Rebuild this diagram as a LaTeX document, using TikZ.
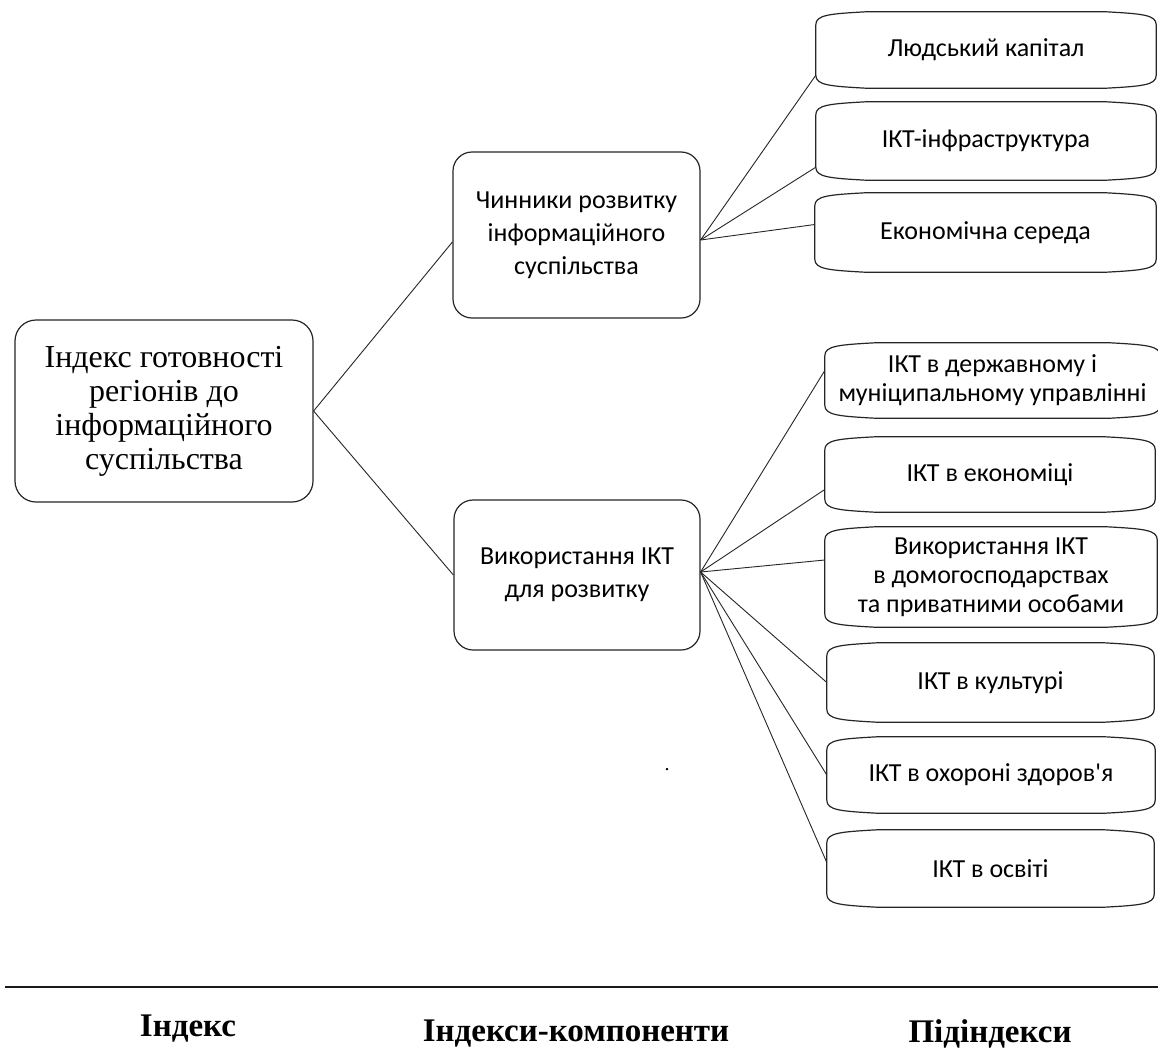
\documentclass[tikz,border=0pt]{standalone}
\usepackage{fontspec}
\setmainfont{Liberation Serif}
\newfontfamily\calfont{Carlito}

\tikzset{
  boxline/.style={draw=black!85, line width=1.2pt},
  link/.style={draw=black!85, line width=0.9pt},
  rootbox/.style={boxline, rounded corners=21pt, align=center,
    font=\fontsize{32}{34}\selectfont, inner sep=0pt},
  midbox/.style={boxline, rounded corners=19pt, align=center,
    font=\fontsize{26}{33}\selectfont\calfont, inner sep=0pt},
  leafbox/.style={align=center, inner sep=0pt,
    font=\fontsize{26}{29}\selectfont\calfont},
  caption/.style={font=\fontsize{33}{35}\selectfont\bfseries, inner sep=0pt}
}

% outline of a leaf box: straight sides, softly flared top and bottom edges
\newcommand\leafoutline[1]{%
  \draw[boxline]
    ([yshift=-13pt]#1.north west)
      .. controls ([yshift=-3pt]#1.north west) and ([xshift=14pt,yshift=-2pt]#1.north west)
      .. ([xshift=50pt]#1.north west)
    -- ([xshift=-50pt]#1.north east)
      .. controls ([xshift=-14pt,yshift=-2pt]#1.north east) and ([yshift=-3pt]#1.north east)
      .. ([yshift=-13pt]#1.north east)
    -- ([yshift=13pt]#1.south east)
      .. controls ([yshift=3pt]#1.south east) and ([xshift=-14pt,yshift=2pt]#1.south east)
      .. ([xshift=-50pt]#1.south east)
    -- ([xshift=50pt]#1.south west)
      .. controls ([xshift=14pt,yshift=2pt]#1.south west) and ([yshift=3pt]#1.south west)
      .. ([yshift=13pt]#1.south west)
    -- cycle;}

\begin{document}
\begin{tikzpicture}[x=1pt, y=-1pt]
  \useasboundingbox[fill=white] (0,0) rectangle (1158,1052);

  % root index
  \node[rootbox, minimum width=298pt, minimum height=182pt] (root) at (164,411)
    {Індекс готовності\\регіонів до\\інформаційного\\суспільства};

  % component indices
  \node[midbox, minimum width=247pt, minimum height=166pt] (m1) at (576.5,235)
    {Чинники розвитку\\інформаційного\\суспільства};
  \node[midbox, minimum width=246pt, minimum height=150pt] (m2) at (577,575)
    {Використання ІКТ\\для розвитку};

  % sub-indices of the first component
  \node[leafbox, minimum width=340pt, minimum height=76pt] (r1) at (986,50) {Людський капітал};
  \node[leafbox, minimum width=340pt, minimum height=78pt] (r2) at (986,141) {ІКТ-інфраструктура};
  \node[leafbox, minimum width=341pt, minimum height=79pt] (r3) at (985.5,232.5) {Економічна середа};

  % sub-indices of the second component
  \node[leafbox, minimum width=335pt, minimum height=75pt] (rA) at (992.5,380.5)
    {ІКТ в державному і\\муніципальному управлінні};
  \node[leafbox, minimum width=330pt, minimum height=75pt] (rB) at (990,474.5) {ІКТ в економіці};
  \node[leafbox, minimum width=332pt, minimum height=100pt] (rC) at (991,577)
    {Використання ІКТ\\в домогосподарствах\\та приватними особами};
  \node[leafbox, minimum width=327pt, minimum height=79pt] (rD) at (990.5,682.5) {ІКТ в культурі};
  \node[leafbox, minimum width=328pt, minimum height=76pt] (rE) at (991,775) {ІКТ в охороні здоров'я};
  \node[leafbox, minimum width=327pt, minimum height=77pt] (rF) at (990.5,868.5) {ІКТ в освіті};

  \foreach \b in {r1,r2,r3,rA,rB,rC,rD,rE,rF} {\leafoutline{\b}}

  % connectors
  \draw[link] (root.east) -- ([yshift=-7pt]m1.west);
  \draw[link] (root.east) -- (m2.west);

  \coordinate (h1) at ([yshift=-5pt]m1.east);
  \draw[link] (h1) -- ([yshift=13pt]r1.south west);
  \draw[link] (h1) -- ([yshift=13pt]r2.south west);
  \draw[link] (h1) -- ([yshift=8pt]r3.west);

  \coordinate (h2) at ([yshift=3pt]m2.east);
  \draw[link] (h2) -- ([yshift=10pt]rA.west);
  \draw[link] (h2) -- ([yshift=-15pt]rB.west);
  \draw[link] (h2) -- ([yshift=17pt]rC.west);
  \draw[link] (h2) -- (rD.west);
  \draw[link] (h2) -- (rE.west);
  \draw[link] (h2) -- ([yshift=6pt]rF.west);

  % stray full stop
  \node[inner sep=0pt, font=\fontsize{20}{20}\selectfont] (dot) at (667,770) {.};

  % legend row
  \coordinate (ruleL) at (5,987);
  \coordinate (ruleR) at (1158,987);
  \draw[line width=1.6pt, black!90] (ruleL) -- (ruleR);
  \node[caption] (c1) at (188,1029) {Індекс};
  \node[caption] (c2) at (576,1034) {Індекси-компоненти};
  \node[caption] (c3) at (990,1034) {Підіндекси};
\end{tikzpicture}
\end{document}
